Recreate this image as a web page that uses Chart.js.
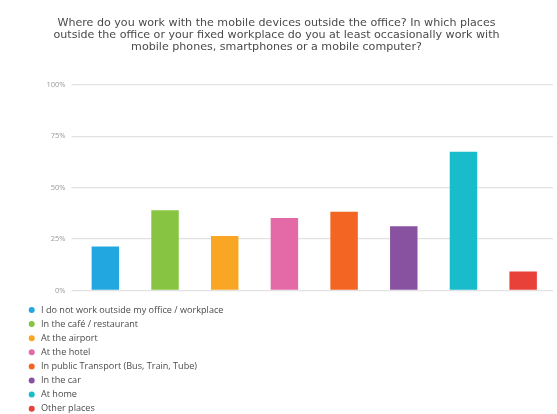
<!DOCTYPE html>
<html>
<head>
<meta charset="utf-8">
<script src="https://cdn.jsdelivr.net/npm/chart.js@4"></script>
<style>
  html, body { margin: 0; padding: 0; background: #fff; }
  #wrap { width: 557px; height: 414px; }
</style>
</head>
<body>
<div id="wrap"><canvas id="placesChart"></canvas></div>
<script>
const places = [
  "I do not work outside my office / workplace",
  "In the café / restaurant",
  "At the airport",
  "At the hotel",
  "In public Transport (Bus, Train, Tube)",
  "In the car",
  "At home",
  "Other places"
];
const shares = [21.4, 39.0, 26.5, 35.3, 38.3, 31.2, 67.5, 9.2];
const barColors = ["#22a7e0", "#86c441", "#f8a623", "#e46aa7", "#f26522", "#8952a0", "#19bccb", "#e8413a"];
const yTicks = [0, 25, 50, 75, 100];
const titleLines = [
  "Where do you work with the mobile devices outside the office? In which places",
  "outside the office or your fixed workplace do you at least occasionally work with",
  "mobile phones, smartphones or a mobile computer?"
];

// one legend entry per line, under the plot
const listLegend = {
  id: 'listLegend',
  afterDraw(chart) {
    const ctx = chart.ctx;
    const top = chart.chartArea.bottom + 19.5;
    ctx.save();
    ctx.font = '9.1px "Open Sans"';
    ctx.textBaseline = 'middle';
    chart.data.labels.forEach(function (label, i) {
      const y = top + i * 14.1;
      ctx.fillStyle = barColors[i];
      ctx.beginPath();
      ctx.arc(31.7, y, 3, 0, Math.PI * 2);
      ctx.fill();
      ctx.fillStyle = '#4a4a4a';
      ctx.fillText(label, 41, y);
    });
    ctx.restore();
  }
};

new Chart("placesChart", {
  type: "bar",
  data: {
    labels: places,
    datasets: [{
      data: shares,
      backgroundColor: barColors,
      categoryPercentage: 1,
      barPercentage: 0.46
    }]
  },
  options: {
    responsive: true,
    maintainAspectRatio: false,
    animation: false,
    layout: { padding: { left: 0, right: 4, top: 0, bottom: 123.5 } },
    plugins: {
      legend: { display: false },
      tooltip: { enabled: false },
      title: {
        display: true,
        text: titleLines,
        color: '#4a4a4a',
        font: { family: 'DejaVu Sans', size: 11.1, weight: 'normal', lineHeight: 1.08 },
        padding: { top: 17.5, bottom: 31.5 }
      }
    },
    scales: {
      x: {
        ticks: { display: false },
        grid: { display: false },
        border: { display: false },
        afterFit: function (s) { s.height = 0; }
      },
      y: {
        min: 0,
        max: 100,
        afterBuildTicks: function (s) { s.ticks = yTicks.map(function (v) { return { value: v }; }); },
        ticks: {
          callback: function (v) { return v + '%'; },
          color: '#999',
          padding: 6,
          font: { family: 'Open Sans', size: 7.5 }
        },
        grid: { color: '#e2e2e2', lineWidth: 1.3, tickLength: 4 },
        border: { display: false },
        afterFit: function (s) { s.width = 75.5; }
      }
    }
  },
  plugins: [listLegend]
});
</script>
</body>
</html>
